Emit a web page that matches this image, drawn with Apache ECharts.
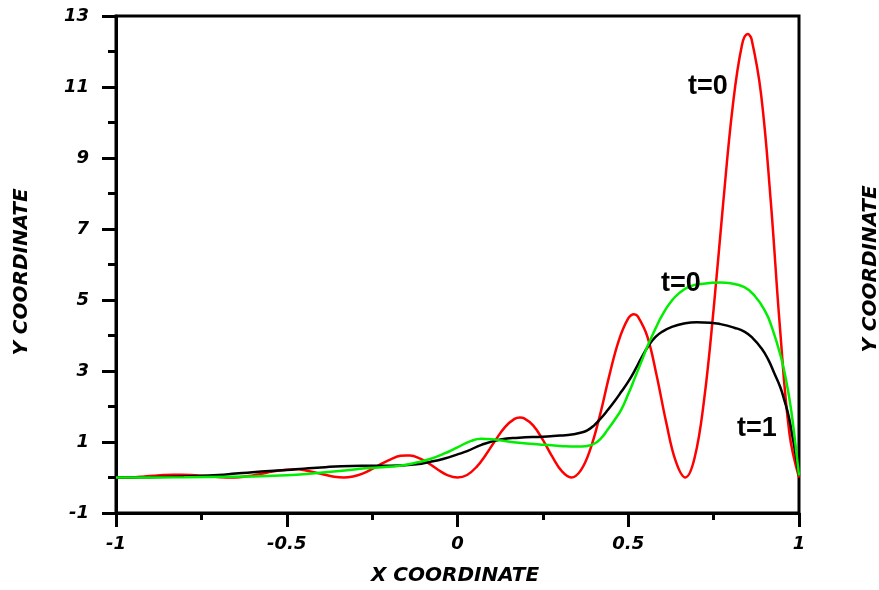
<!DOCTYPE html>
<html>
<head>
<meta charset="utf-8">
<script src="https://cdn.jsdelivr.net/npm/echarts@6/dist/echarts.min.js"></script>
<style>
  html, body { margin: 0; padding: 0; background: #fff; }
  #chart { width: 879px; height: 590px; }
</style>
</head>
<body>
<div id="chart"></div>
<script>
// Profiles along the X coordinate
const redX = [-1.000, -0.972, -0.944, -0.917, -0.889, -0.861, -0.833, -0.806, -0.778, -0.750, -0.722, -0.694,
  -0.667, -0.639, -0.611, -0.583, -0.556, -0.528, -0.500, -0.472, -0.444, -0.417, -0.389, -0.361,
  -0.333, -0.306, -0.278, -0.250, -0.222, -0.194, -0.167, -0.150, -0.139, -0.111, -0.083, -0.056, -0.028,
  0.000, 0.028, 0.056, 0.083, 0.111, 0.139, 0.167, 0.183, 0.194, 0.222, 0.250, 0.278, 0.306,
  0.333, 0.361, 0.389, 0.417, 0.444, 0.472, 0.500, 0.517, 0.528, 0.556, 0.583, 0.611, 0.639,
  0.667, 0.694, 0.722, 0.750, 0.778, 0.806, 0.833, 0.850, 0.861, 0.889, 0.917, 0.944, 0.972, 1.000];
const redY = [0, 0.00, 0.01, 0.03, 0.05, 0.07, 0.08, 0.08, 0.07, 0.05, 0.03, 0.01,
  0, 0.01, 0.04, 0.09, 0.14, 0.19, 0.22, 0.23, 0.20, 0.14, 0.08, 0.02,
  0, 0.03, 0.11, 0.24, 0.39, 0.52, 0.61, 0.62, 0.62, 0.54, 0.39, 0.21, 0.06,
  0, 0.07, 0.30, 0.64, 1.05, 1.42, 1.65, 1.69, 1.67, 1.46, 1.06, 0.58, 0.17,
  0, 0.20, 0.80, 1.75, 2.85, 3.85, 4.48, 4.60, 4.54, 3.97, 2.88, 1.56, 0.46,
  0, 0.54, 2.18, 4.74, 7.73, 10.46, 12.18, 12.49, 12.35, 10.79, 7.82, 4.25, 1.24, 0];

const greenX = [-1, -0.8, -0.6, -0.5, -0.41, -0.33, -0.27, -0.22, -0.17, -0.12, -0.08, -0.04, 0,
  0.04, 0.07, 0.1, 0.13, 0.18, 0.24, 0.3, 0.35, 0.38, 0.4, 0.42, 0.44, 0.46, 0.48, 0.5, 0.52,
  0.54, 0.56, 0.58, 0.6, 0.625, 0.65, 0.68, 0.72, 0.77, 0.8, 0.84, 0.87, 0.9, 0.92, 0.947,
  0.965, 0.977, 0.99, 1];
const greenY = [0, 0.01, 0.03, 0.06, 0.13, 0.2, 0.26, 0.29, 0.33, 0.42, 0.52, 0.67, 0.85,
  1.03, 1.09, 1.08, 1.04, 0.98, 0.93, 0.89, 0.87, 0.89, 0.95, 1.1, 1.35, 1.62, 1.92, 2.35, 2.82,
  3.3, 3.78, 4.2, 4.58, 4.95, 5.2, 5.38, 5.46, 5.49, 5.47, 5.36, 5.12, 4.7, 4.25, 3.4,
  2.6, 1.9, 0.9, 0.05];

const blackX = [-1, -0.9, -0.8, -0.7, -0.65, -0.6, -0.5, -0.45, -0.4, -0.34, -0.28, -0.22, -0.17,
  -0.12, -0.08, -0.04, 0, 0.03, 0.07, 0.126, 0.18, 0.25, 0.3, 0.34, 0.36, 0.38, 0.4, 0.42, 0.44,
  0.46, 0.48, 0.5, 0.52, 0.54, 0.56, 0.58, 0.6, 0.63, 0.66, 0.7, 0.74, 0.77, 0.81, 0.84, 0.865,
  0.89, 0.91, 0.928, 0.945, 0.957, 0.97, 0.981, 0.99, 1];
const blackY = [0, 0.01, 0.03, 0.07, 0.11, 0.15, 0.21, 0.25, 0.28, 0.32, 0.33, 0.33, 0.34,
  0.37, 0.44, 0.53, 0.65, 0.75, 0.92, 1.07, 1.12, 1.15, 1.18, 1.22, 1.26, 1.33, 1.47, 1.67, 1.9,
  2.15, 2.42, 2.7, 3.03, 3.4, 3.72, 3.96, 4.11, 4.25, 4.33, 4.37, 4.36, 4.32, 4.22, 4.11, 3.92,
  3.64, 3.32, 2.93, 2.55, 2.18, 1.72, 1.15, 0.65, 0.05];

const yMajorTicks = [-1, 1, 3, 5, 7, 9, 11, 13];
const yMinorTicks = [0, 2, 4, 6, 8, 10, 12];
const xTitle = 'X COORDINATE';
const yTitle = 'Y COORDINATE';
const curveLabels = ['t=0', 't=0', 't=1'];

function pairs(xs, ys) { return xs.map((x, i) => [x, ys[i]]); }

const tickFont = {
  fontFamily: 'DejaVu Sans', fontWeight: 'bold', fontStyle: 'italic', fontSize: 18, color: '#000'
};
const titleFont = 'italic bold 20px "DejaVu Sans"';
const noteFont = 'bold 27px "Liberation Sans"';
const tickLine = { color: '#000', width: 3 };

const chart = echarts.init(document.getElementById('chart'), null, { renderer: 'canvas' });

chart.setOption({
  animation: false,
  backgroundColor: '#fff',
  grid: {
    left: 116, right: 80, top: 16, bottom: 77,
    show: true, borderColor: '#000', borderWidth: 3, backgroundColor: 'transparent',
    outerBoundsMode: 'none'
  },
  xAxis: {
    type: 'value', min: -1, max: 1, interval: 0.5,
    axisLine: { show: true, onZero: false, lineStyle: tickLine },
    axisTick: { show: true, length: 14, lineStyle: tickLine },
    minorTick: { show: true, splitNumber: 2, length: 7, lineStyle: tickLine },
    splitLine: { show: false },
    minorSplitLine: { show: false },
    axisLabel: Object.assign({ margin: 22, formatter: v => String(v) }, tickFont)
  },
  yAxis: [{
    type: 'value', min: -1, max: 13, position: 'left',
    axisLine: { show: true, onZero: false, lineStyle: tickLine },
    axisTick: { show: true, length: 14, customValues: yMajorTicks, lineStyle: tickLine },
    splitLine: { show: false },
    axisLabel: Object.assign({ margin: 27, customValues: yMajorTicks, formatter: v => String(v) }, tickFont)
  }, {
    type: 'value', min: -1, max: 13, position: 'left', offset: 0,
    axisLine: { show: false, onZero: false },
    axisTick: { show: true, length: 8, customValues: yMinorTicks, lineStyle: tickLine },
    splitLine: { show: false },
    axisLabel: { show: false }
  }],
  series: [
    { type: 'line', data: pairs(redX, redY), smooth: 0.4, showSymbol: false,
      lineStyle: { color: '#ff0000', width: 2.5 }, z: 3 },
    { type: 'line', data: pairs(blackX, blackY), smooth: 0.5, showSymbol: false,
      lineStyle: { color: '#000000', width: 2.5 }, z: 4 },
    { type: 'line', data: pairs(greenX, greenY), smooth: 0.5, showSymbol: false,
      lineStyle: { color: '#00ee00', width: 2.5 }, z: 5 }
  ],
  graphic: [
    { type: 'text', x: 455, y: 576, style: { text: xTitle, font: titleFont, fill: '#000', align: 'center', verticalAlign: 'middle' } },
    { type: 'text', x: 22, y: 272, rotation: Math.PI / 2, style: { text: yTitle, font: titleFont, fill: '#000', align: 'center', verticalAlign: 'middle' } },
    { type: 'text', x: 871, y: 269, rotation: Math.PI / 2, style: { text: yTitle, font: titleFont, fill: '#000', align: 'center', verticalAlign: 'middle' } },
    { type: 'text', x: 708, y: 87, z: 10, style: { text: curveLabels[0], font: noteFont, fill: '#000', align: 'center', verticalAlign: 'middle' } },
    { type: 'text', x: 681, y: 284, z: 10, style: { text: curveLabels[1], font: noteFont, fill: '#000', align: 'center', verticalAlign: 'middle' } },
    { type: 'text', x: 757, y: 429, z: 10, style: { text: curveLabels[2], font: noteFont, fill: '#000', align: 'center', verticalAlign: 'middle' } }
  ]
});
</script>
</body>
</html>
